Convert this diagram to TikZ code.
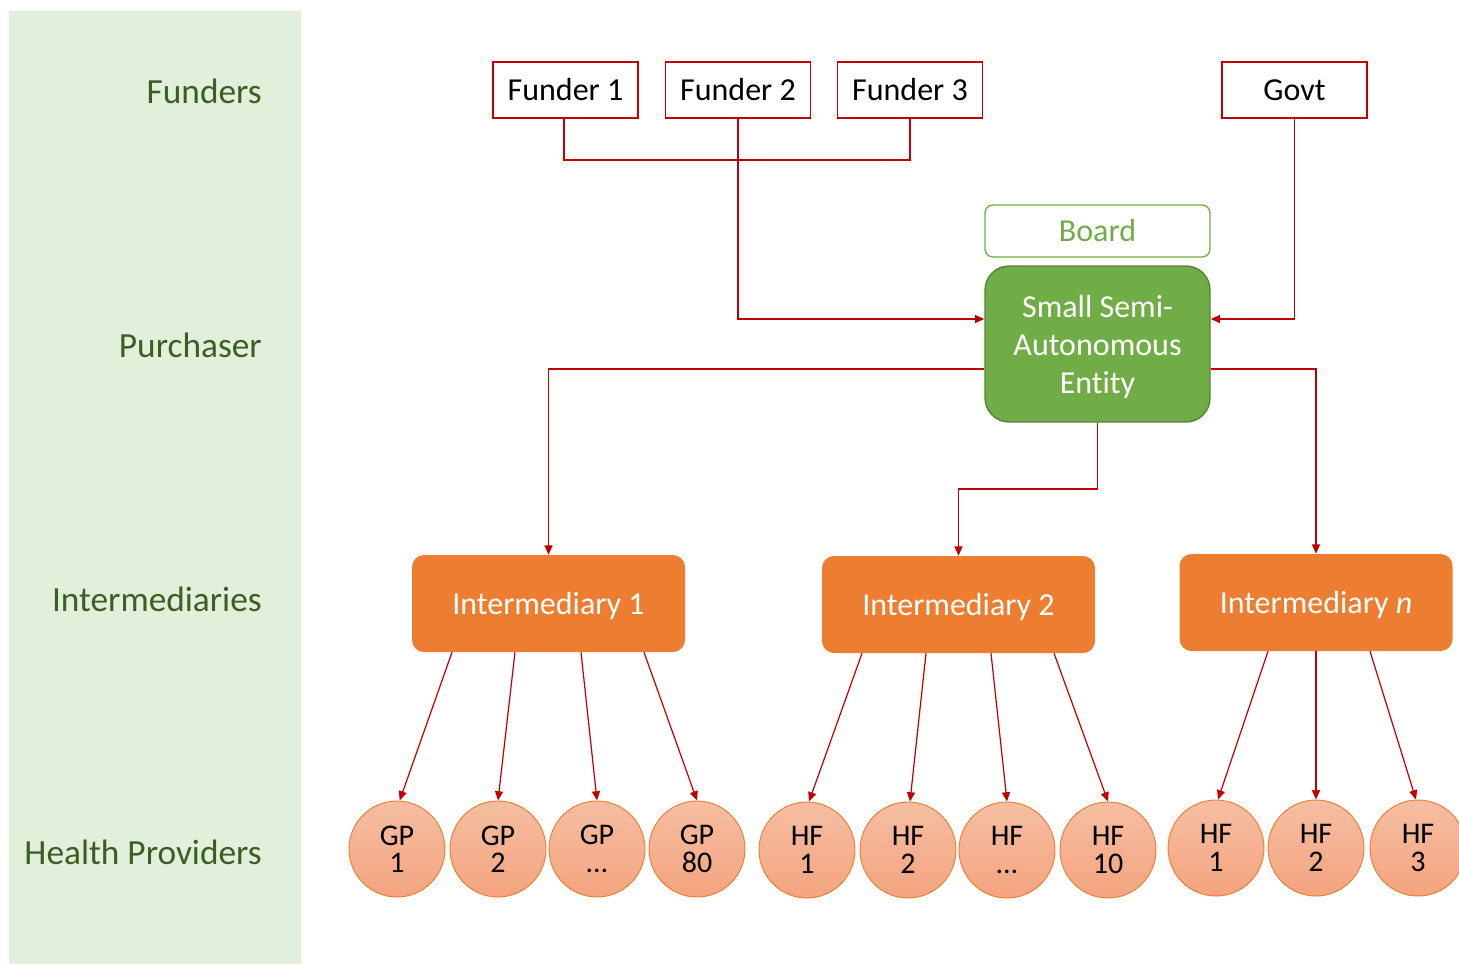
\documentclass[tikz,border=0pt]{standalone}
\usepackage{fontspec}
\setmainfont{Carlito}[Ligatures=NoCommon]
\usetikzlibrary{arrows.meta}
\definecolor{conred}{HTML}{C00000}
\definecolor{bandgreen}{HTML}{E2EFDA}
\definecolor{labgreen}{HTML}{3A5F24}
\definecolor{entgreen}{HTML}{70AD47}
\definecolor{entborder}{HTML}{548235}
\definecolor{orng}{HTML}{ED7D31}
\definecolor{circtop}{HTML}{F6BEA2}
\definecolor{circbot}{HTML}{F4A47F}
\tikzset{
  conn/.style={draw=conred, line width=0.9pt},
  arr/.style={conn, -{Triangle[length=7pt,width=6pt]}},
  lanelabel/.style={anchor=east, text=labgreen, font=\fontsize{26.5}{30}\selectfont, inner sep=0pt},
  funderbox/.style={draw=conred, line width=1pt, fill=white, minimum width=108.75pt, minimum height=42pt, font=\fontsize{24}{28}\selectfont, inner sep=0pt},
  boardbox/.style={draw=entgreen, line width=1pt, rounded corners=6pt, minimum width=168.75pt, minimum height=39pt, text=entgreen, font=\fontsize{24}{28}\selectfont, inner sep=0pt},
  entbox/.style={draw=entborder, line width=1pt, fill=entgreen, rounded corners=18pt, minimum width=168.75pt, minimum height=117pt, text=white, align=center, font=\fontsize{24}{28.5}\selectfont, inner sep=0pt, text depth=0pt},
  interbox/.style={fill=orng, rounded corners=9pt, minimum width=204.75pt, minimum height=72.75pt, text=white, font=\fontsize{24}{28}\selectfont, inner sep=0pt, text depth=0pt},
  provider/.style={circle, draw=orng, line width=0.7pt, top color=circtop, bottom color=circbot, minimum size=72pt, inner sep=0pt, align=center, font=\fontsize{22.5}{20.5}\selectfont},
}
\begin{document}
\begin{tikzpicture}[x=0.75pt,y=-0.75pt]
\useasboundingbox (0,0) rectangle (1459,964);
\fill[bandgreen] (9,11) rectangle (301,964);

% lane labels
\node[lanelabel] (lf) at (262,91) {Funders};
\node[lanelabel] (lp) at (262,345) {Purchaser};
\node[lanelabel] (li) at (262,599) {Intermediaries};
\node[lanelabel] (lh) at (262,852) {Health Providers};

% funders
\node[funderbox] (f1) at (565.5,90) {Funder 1};
\node[funderbox] (f2) at (738,90) {Funder 2};
\node[funderbox] (f3) at (910,90) {Funder 3};
\node[funderbox] (gv) at (1294.5,90) {Govt};

% purchaser
\node[boardbox] (bd) at (1097.5,231) {Board};
\node[entbox] (en) at (1097.5,344) {Small Semi-\\Autonomous\\Entity};

% intermediaries
\node[interbox] (i1) at (548.5,603.5) {Intermediary 1};
\node[interbox] (i2) at (958.5,604.5) {Intermediary 2};
\node[interbox] (in) at (1316,602.5) {Intermediary \textit{n}};

% providers
\node[provider] (g1) at (397,849) {GP\\1};
\node[provider] (g2) at (498,849) {GP\\2};
\node[provider] (g3) at (597,849) {GP\\\dots};
\node[provider] (g4) at (697,849) {GP\\80};
\node[provider] (h1) at (807,850) {HF\\1};
\node[provider] (h2) at (908,850) {HF\\2};
\node[provider] (h3) at (1007,850) {HF\\\dots};
\node[provider] (h4) at (1108,850) {HF\\10};
\node[provider] (k1) at (1216,848) {HF\\1};
\node[provider] (k2) at (1316,848) {HF\\2};
\node[provider] (k3) at (1418,848) {HF\\3};

% helper levels
\coordinate (yj) at (0,160);
\coordinate (yin) at (0,319);
\coordinate (yout) at (0,369);
\coordinate (ymid) at (0,489);

% funders to entity
\draw[conn] (f1.south) ++(-1.5,0) |- (yj -| f3.south) -- (f3.south);
\draw[arr] (f2.south) |- (en.west |- yin);
\draw[arr] (gv.south) |- (en.east |- yin);

% entity to intermediaries
\draw[arr] (en.west |- yout) -| (i1.north);
\draw[arr] (en.east |- yout) -| (in.north);
\draw[arr] (en.south) |- (i2.north |- ymid) -- (i2.north);

% intermediaries to providers
\draw[arr] (i1.south) ++(-96.5,0) -- ([xshift=2pt]g1.north);
\draw[arr] (i1.south) ++(-33.5,0) -- (g2.north);
\draw[arr] (i1.south) ++(32.5,0) -- (g3.north);
\draw[arr] (i1.south) ++(95.5,0) -- (g4.north);
\draw[arr] (i2.south) ++(-96.5,0) -- ([xshift=1.5pt]h1.north);
\draw[arr] (i2.south) ++(-32.5,0) -- ([xshift=1.5pt]h2.north);
\draw[arr] (i2.south) ++(32.5,0) -- (h3.north);
\draw[arr] (i2.south) ++(95.5,0) -- (h4.north);
\draw[arr] (in.south) ++(-48,0) -- ([xshift=1.5pt]k1.north);
\draw[arr] (in.south) -- (k2.north);
\draw[arr] (in.south) ++(54,0) -- ([xshift=-1.5pt]k3.north);
\end{tikzpicture}
\end{document}
